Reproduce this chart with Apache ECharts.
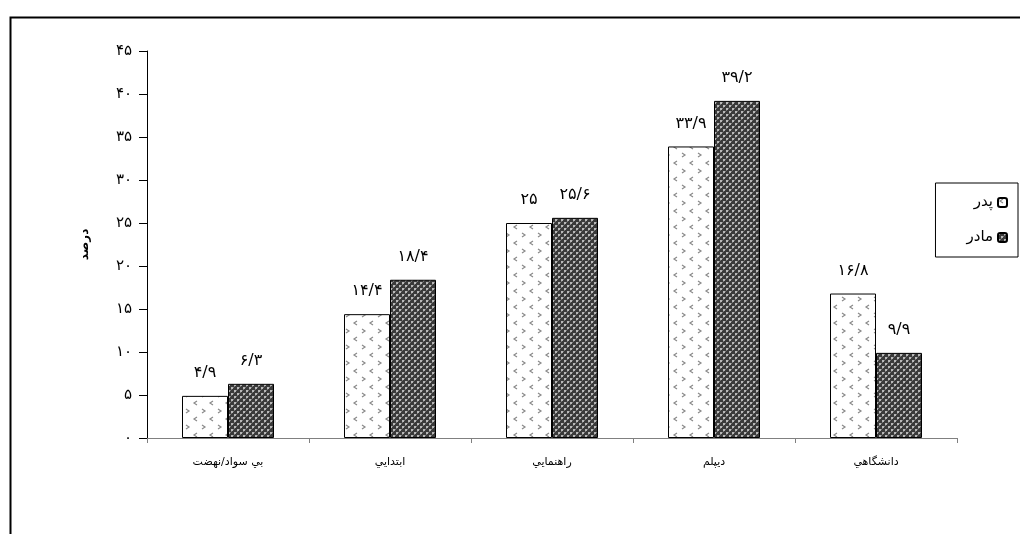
<!DOCTYPE html>
<html><head><meta charset="utf-8">
<script src="https://cdn.jsdelivr.net/npm/echarts@6/dist/echarts.min.js"></script>
<style>html,body{margin:0;padding:0;background:#fff}#c{width:1020px;height:534px}</style>
</head><body><div id="c"></div>
<script>
const categories = ['بي سواد/نهضت', 'ابتدايي', 'راهنمايي', 'ديپلم', 'دانشگاهي'];
const seriesNames = ['پدر', 'مادر'];
const fatherValues = [4.9, 14.4, 25, 33.9, 16.8];
const motherValues = [6.3, 18.4, 25.6, 39.2, 9.9];
const yTickLabels = ['۰', '۵', '۱۰', '۱۵', '۲۰', '۲۵', '۳۰', '۳۵', '۴۰', '۴۵'];
const yAxisName = 'درصد';

const faDigits = '۰۱۲۳۴۵۶۷۸۹';
function toFa(v) {
  return String(v).replace(/[0-9]/g, d => faDigits[+d]).replace('.', '/');
}

function makeFatherPattern() {
  const c = document.createElement('canvas');
  c.width = 16; c.height = 16;
  const g = c.getContext('2d');
  g.fillStyle = '#fff'; g.fillRect(0, 0, 16, 16);
  g.strokeStyle = '#8a8a8a'; g.lineWidth = 1.2;
  g.beginPath(); g.moveTo(5, 1); g.lineTo(2, 3); g.lineTo(5, 5); g.stroke();
  g.beginPath(); g.moveTo(10, 9); g.lineTo(13, 11); g.lineTo(10, 13); g.stroke();
  return c;
}
function makeMotherPattern() {
  const c = document.createElement('canvas');
  c.width = 6; c.height = 6;
  const g = c.getContext('2d');
  g.fillStyle = '#3a3a3a'; g.fillRect(0, 0, 6, 6);
  g.fillStyle = '#b8b8b8';
  g.fillRect(0, 0, 2, 2); g.fillRect(3, 3, 2, 2);
  g.fillStyle = '#7a7a7a';
  g.fillRect(2, 0, 1, 1); g.fillRect(0, 2, 1, 1); g.fillRect(5, 3, 1, 1); g.fillRect(3, 5, 1, 1);
  return c;
}

const chart = echarts.init(document.getElementById('c'), null, {renderer: 'canvas'});
const font = 'DejaVu Sans, Liberation Sans, sans-serif';
const labelCfg = {
  show: true, position: 'top', distance: 15, color: '#000', fontSize: 16, fontFamily: font,
  formatter: p => toFa(p.value)
};
chart.setOption({
  animation: false,
  backgroundColor: '#fff',
  textStyle: {fontFamily: font},
  graphic: [{
    type: 'rect', left: 8, top: 15, shape: {width: 1100, height: 600},
    style: {fill: 'none', stroke: '#000', lineWidth: 2}, silent: true, z: -1
  }],
  grid: {left: 147, right: 63, top: 51, bottom: 96},
  legend: {
    orient: 'vertical', right: 2, top: 183, align: 'right',
    itemWidth: 9, itemHeight: 9, itemGap: 20,
    padding: [12, 10, 12, 31],
    borderColor: '#000', borderWidth: 1,
    textStyle: {fontSize: 15, color: '#000', fontFamily: font},
    data: seriesNames
  },
  xAxis: {
    type: 'category', data: categories,
    axisLine: {lineStyle: {color: '#808080', width: 1}},
    axisTick: {show: true, length: 5, lineStyle: {color: '#808080'}},
    axisLabel: {color: '#000', fontSize: 11, margin: 19, fontFamily: font}
  },
  yAxis: {
    type: 'value', min: 0, max: 45, interval: 5,
    name: yAxisName, nameLocation: 'middle', nameGap: 56, nameRotate: 90,
    nameTextStyle: {fontSize: 12, fontWeight: 'bold', color: '#000', fontFamily: font},
    axisLine: {show: true, lineStyle: {color: '#000', width: 1}},
    axisTick: {show: true, length: 8, lineStyle: {color: '#000'}},
    splitLine: {show: false},
    axisLabel: {color: '#000', fontSize: 15, margin: 15, fontFamily: font,
      formatter: v => yTickLabels[Math.round(v / 5)]}
  },
  series: [
    {name: seriesNames[0], type: 'bar', data: fatherValues, barWidth: 46, barGap: '0%',
     itemStyle: {color: {image: makeFatherPattern(), repeat: 'repeat'}, borderColor: '#000', borderWidth: 1},
     label: labelCfg},
    {name: seriesNames[1], type: 'bar', data: motherValues, barWidth: 46, barGap: '0%',
     itemStyle: {color: {image: makeMotherPattern(), repeat: 'repeat'}, borderColor: '#000', borderWidth: 1},
     label: labelCfg}
  ]
});
</script></body></html>
